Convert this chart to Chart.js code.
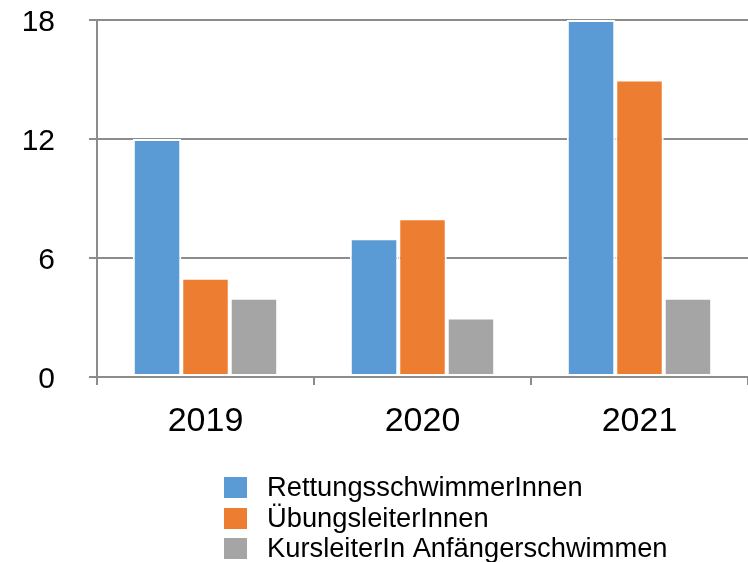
<!DOCTYPE html>
<html>
<head>
<meta charset="utf-8">
<script src="https://cdn.jsdelivr.net/npm/chart.js@4/dist/chart.umd.min.js"></script>
<style>
html,body{margin:0;padding:0;background:#fff;}
#wrap{width:748px;height:562px;position:relative;}
</style>
</head>
<body>
<div id="wrap"><canvas id="c" width="748" height="562"></canvas></div>
<script>
const categories = ['2019', '2020', '2021'];
const seriesNames = ['RettungsschwimmerInnen', 'ÜbungsleiterInnen', 'KursleiterIn Anfängerschwimmen'];
const rettung = [12, 7, 18];
const uebung = [5, 8, 15];
const kurs = [4, 3, 4];
const yTicks = [0, 6, 12, 18];
const colors = ['#5B9BD5', '#ED7D31', '#A5A5A5'];

const FONT = "'Liberation Sans', Arial, Helvetica, sans-serif";
const GRID = '#8c8c8c';

const legendPlugin = {
  id: 'vlegend',
  afterDraw(chart) {
    const ctx = chart.ctx;
    ctx.save();
    ctx.font = '27.3px ' + FONT;
    ctx.textBaseline = 'middle';
    ctx.textAlign = 'left';
    const rows = [487, 518, 548];
    chart.data.datasets.forEach((ds, i) => {
      ctx.fillStyle = ds.backgroundColor;
      ctx.fillRect(224, rows[i] - 10, 23, 21);
      ctx.fillStyle = '#000';
      ctx.fillText(ds.label, 267, rows[i] + 1);
    });
    ctx.restore();
  }
};

const datasets = [rettung, uebung, kurs].map((d, i) => ({
  label: seriesNames[i],
  data: d,
  backgroundColor: colors[i],
  borderColor: '#ffffff',
  borderWidth: 2,
  borderSkipped: false,
  barPercentage: 1,
  categoryPercentage: 0.67
}));

new Chart(document.getElementById('c'), {
  type: 'bar',
  data: { labels: categories, datasets },
  plugins: [legendPlugin],
  options: {
    responsive: false,
    animation: false,
    layout: { padding: { top: 20, right: -3, bottom: 122, left: 0 } },
    plugins: { legend: { display: false }, tooltip: { enabled: false } },
    scales: {
      x: {
        z: 1,
        grid: { display: true, drawOnChartArea: false, drawTicks: true, tickLength: 8, color: GRID, lineWidth: 2, offset: true },
        border: { display: true, color: GRID, width: 2 },
        ticks: { color: '#000', font: { family: FONT, size: 34 }, padding: 16 },
        afterFit(s) { s.height = 63; }
      },
      y: {
        min: 0, max: 18,
        afterBuildTicks(s) { s.ticks = yTicks.map(v => ({ value: v })); },
        grid: { color: GRID, lineWidth: 2, drawTicks: true, tickLength: 8 },
        border: { display: true, color: GRID, width: 2 },
        ticks: { color: '#000', font: { family: FONT, size: 30 }, padding: 34, labelOffset: 3 },
        afterFit(s) { s.width = 97; s.paddingTop = 0; s.paddingBottom = 0; }
      }
    }
  }
});
</script>
</body>
</html>
